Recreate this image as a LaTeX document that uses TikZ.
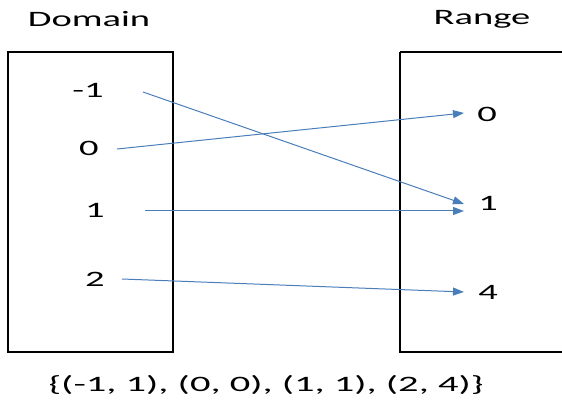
\documentclass[tikz,border=0pt]{standalone}
\usepackage{fontspec}
\usepackage{graphicx}
\setmainfont{Carlito}
\usetikzlibrary{arrows.meta}
\definecolor{arrowblue}{HTML}{4A7EBB}
\newcommand{\widetxt}[1]{\scalebox{1.75}[1]{#1}}
\begin{document}
\begin{tikzpicture}[x=1pt,y=-1pt,
  lbl/.style={font=\fontsize{22}{26}\selectfont, inner sep=0pt},
  setbox/.style={draw=black, line width=2pt},
  maparrow/.style={draw=arrowblue, line width=1pt, -{Triangle[length=11pt,width=8pt]}}]
\useasboundingbox (0,0) rectangle (562,406);
\draw[setbox] (8,52) rectangle (173,352);
\draw[setbox] (400,52) -- (400,352) -- (570,352);
\draw[setbox] (400,52) -- (570,52);
\node[lbl] (dom) at (89,19) {\widetxt{Domain}};
\node[lbl] (ran) at (482,19) {\widetxt{Range}};
\node[lbl] (dm1) at (88,90) {\widetxt{-1}};
\node[lbl] (d0) at (89,148) {\widetxt{0}};
\node[lbl] (d1) at (95,210) {\widetxt{1}};
\node[lbl] (d2) at (95,279) {\widetxt{2}};
\node[lbl] (r0) at (487,114) {\widetxt{0}};
\node[lbl] (r1) at (488,203) {\widetxt{1}};
\node[lbl] (r4) at (488,292) {\widetxt{4}};
\coordinate (sm1) at (143,92);
\coordinate (s0) at (117,149);
\coordinate (s1) at (145,211);
\coordinate (s2) at (122,279);
\coordinate (e0) at (464,113);
\coordinate (e1a) at (464,204);
\coordinate (e1b) at (464,211);
\coordinate (e4) at (464,292);
\draw[maparrow] (sm1) -- (e1a);
\draw[maparrow] (s0) -- (e0);
\draw[maparrow] (s1) -- (e1b);
\draw[maparrow] (s2) -- (e4);
\node[lbl] (set) at (266,385) {\scalebox{1.84}[1]{\{(-1, 1), (0, 0), (1, 1), (2, 4)\}}};
\end{tikzpicture}
\end{document}
